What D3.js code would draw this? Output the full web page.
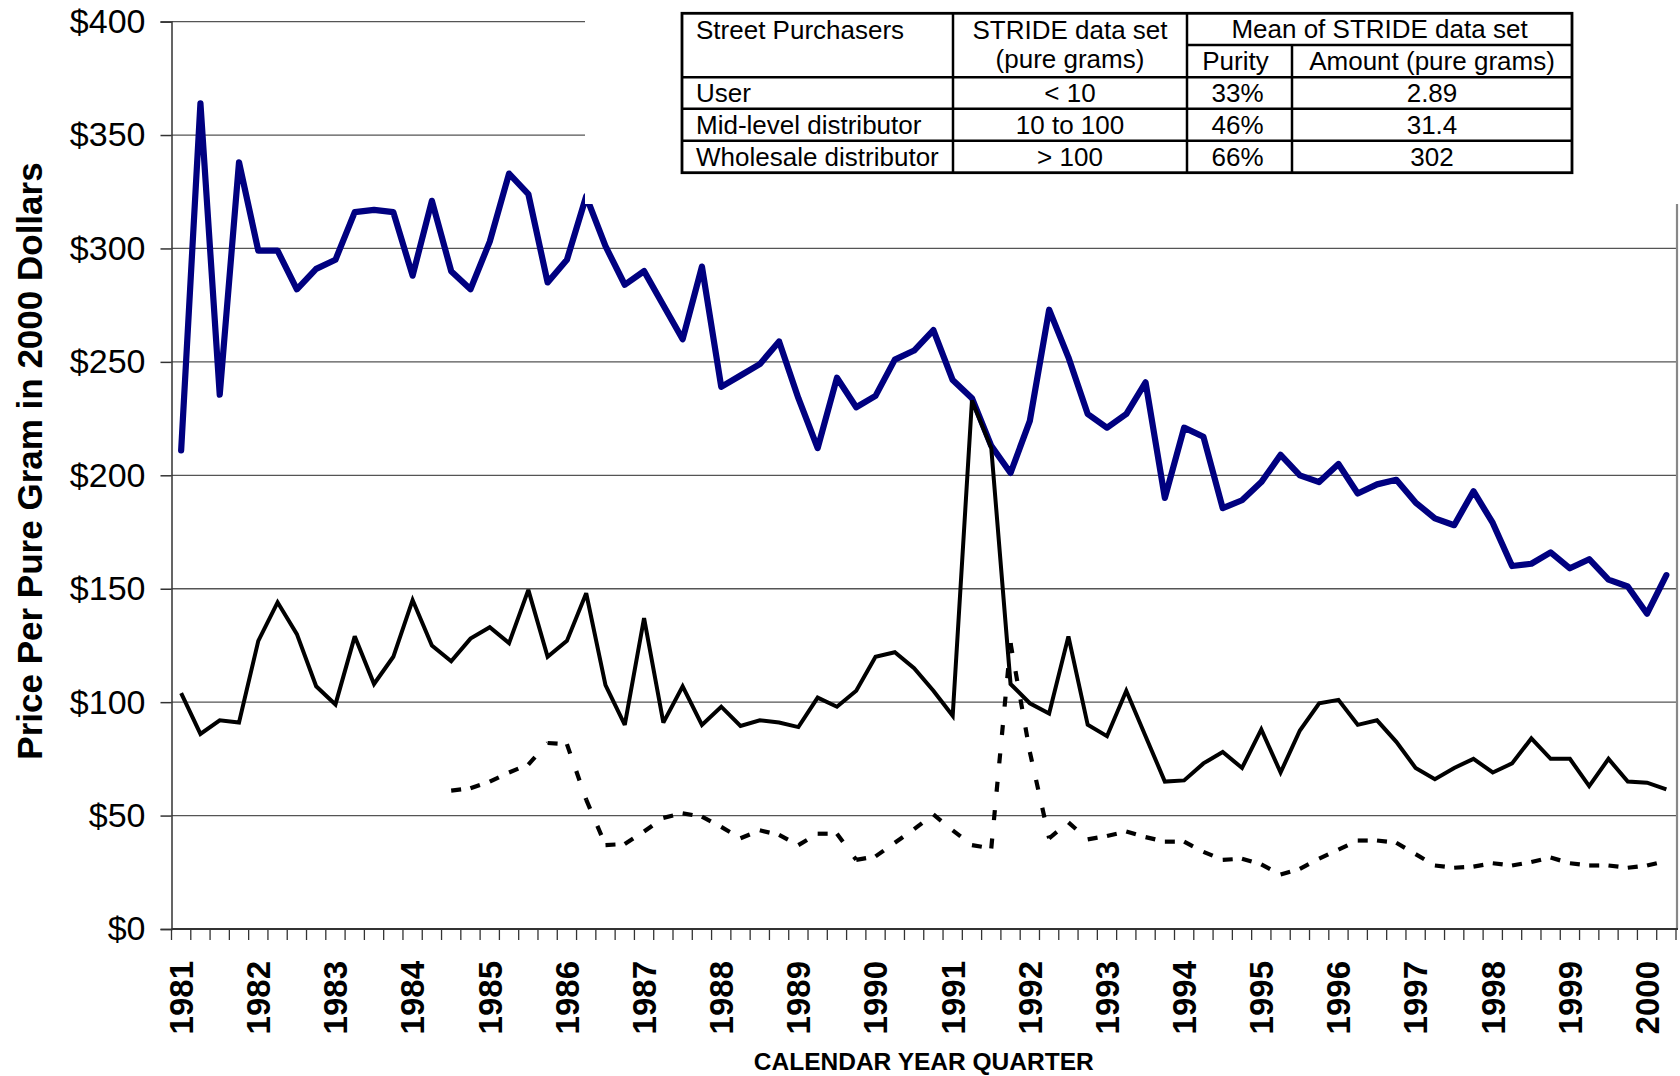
<!DOCTYPE html>
<html>
<head>
<meta charset="utf-8">
<script src="https://cdn.jsdelivr.net/npm/d3@7"></script>
<style>
  body { margin: 0; background: #fff; }
  svg { display: block; font-family: "Liberation Sans", Arial, sans-serif; }
</style>
</head>
<body>
<script>
// years on the category axis, one label per Q1
const years = [1981, 1982, 1983, 1984, 1985, 1986, 1987, 1988, 1989, 1990,
               1991, 1992, 1993, 1994, 1995, 1996, 1997, 1998, 1999, 2000];
const quarters = years.flatMap(y => ["Q1", "Q2", "Q3", "Q4"].map(q => y + q)).slice(0, 78);
const yTicks = [0, 50, 100, 150, 200, 250, 300, 350, 400];

// price per pure gram, 2000 dollars
const userPrice = [211, 364, 235.5, 338, 299, 299, 282, 291, 295, 316,
  317, 316, 288, 321, 290, 282, 303, 333, 324, 285,
  295, 323, 301, 284, 290, 275, 260, 292, 239, 244,
  249, 259, 234, 212, 243, 230, 235, 251, 255, 264,
  242, 234, 213, 201, 224, 273, 252, 227, 221, 227,
  241, 190, 221, 217, 185.5, 189, 197, 209, 200, 197,
  205, 192, 196, 198, 188, 181, 178, 193, 179, 160,
  161, 166, 159, 163, 154, 151, 139, 156];
const midPrice = [104, 86, 92, 91, 127, 144, 130, 107, 99, 129,
  108, 120, 145, 125, 118, 128, 133, 126, 149.5, 120,
  127, 148, 107.5, 90, 137, 91, 107, 90, 98, 89.5,
  92, 91, 89, 102, 98, 105, 120, 122, 115, 105,
  94, 233, 212, 108, 99.5, 95, 129, 90, 85, 105,
  85, 65, 65.5, 73, 78, 71, 88, 69, 87.5, 99.5,
  101, 90, 92, 82.5, 71, 66, 71, 75, 69, 73,
  84, 75, 75, 63, 75, 65, 64.5, 61.5];
const wholesalePrice = [null, null, null, null, null, null, null, null, null, null,
  null, null, null, null, 61, 62, 65, 69, 72.5, 82,
  81.5, 57, 37, 37.5, 43, 49, 51, 49.5, 45, 40,
  43.5, 41.5, 37, 42, 42, 30.5, 32, 38, 44, 50.5,
  43.5, 37, 35.5, 126, 78, 40, 47, 39.5, 41, 43,
  40.5, 38.5, 38.5, 34, 30.5, 31, 28.5, 24, 26.5, 31,
  35, 39, 39, 38, 33, 28, 27, 27.5, 29, 28,
  29.5, 31.5, 29, 28, 28, 27, 28, 30];

// table in the corner
const tableHead1 = ["Street Purchasers", "STRIDE data set", "Mean of STRIDE data set"];
const tableHead2 = ["(pure grams)", "Purity", "Amount (pure grams)"];
const tableRows = [
  ["User", "< 10", "33%", "2.89"],
  ["Mid-level distributor", "10 to 100", "46%", "31.4"],
  ["Wholesale distributor", "> 100", "66%", "302"]
];

const width = 1680, height = 1076;
const plotL = 171.5, plotR = 1676, plotT = 21.6, plotB = 929;

const svg = d3.select("body").append("svg")
  .attr("width", width).attr("height", height);
svg.append("rect").attr("width", width).attr("height", height).attr("fill", "#fff");

const x = d3.scaleBand().domain(quarters).range([plotL, plotR]);
const xc = q => x(q) + x.bandwidth() / 2;
const y = d3.scaleLinear().domain([0, 400]).range([plotB, plotT]);

// gridlines
svg.append("g").selectAll("line")
  .data(yTicks.filter(d => d > 0))
  .enter().append("line")
  .attr("x1", plotL).attr("x2", plotR)
  .attr("y1", d => y(d)).attr("y2", d => y(d))
  .attr("stroke", "#555").attr("stroke-width", 1.3);

// right border of the plot area
svg.append("line")
  .attr("x1", plotR + 1).attr("x2", plotR + 1)
  .attr("y1", plotT).attr("y2", plotB)
  .attr("stroke", "#888").attr("stroke-width", 2.2);

// y axis
const yAxis = svg.append("g")
  .attr("transform", "translate(" + plotL + ",0)")
  .call(d3.axisLeft(y).tickValues(yTicks).tickSize(11).tickPadding(15)
    .tickFormat(d => "$" + d));
yAxis.select(".domain").attr("stroke", "#333").attr("stroke-width", 1.5);
yAxis.selectAll(".tick line").attr("stroke", "#333").attr("stroke-width", 1.5);
yAxis.selectAll("text")
  .attr("font-size", 34).attr("fill", "#000")
  .attr("font-family", "'Liberation Sans', Arial, sans-serif");

// x axis: ticks between quarters, labels at Q1
const xg = svg.append("g");
xg.append("line")
  .attr("x1", plotL).attr("x2", plotR + 2)
  .attr("y1", plotB).attr("y2", plotB)
  .attr("stroke", "#333").attr("stroke-width", 1.8);
xg.selectAll(".qtick")
  .data(quarters.concat(["end"]))
  .enter().append("line")
  .attr("class", "qtick")
  .attr("x1", d => d === "end" ? plotR : x(d))
  .attr("x2", d => d === "end" ? plotR : x(d))
  .attr("y1", plotB).attr("y2", plotB + 11)
  .attr("stroke", "#333").attr("stroke-width", 1.3);

const xAxis = svg.append("g")
  .attr("transform", "translate(0," + plotB + ")")
  .call(d3.axisBottom(x).tickValues(quarters.filter(q => q.endsWith("Q1")))
    .tickSize(0).tickFormat(d => d.slice(0, 4)));
xAxis.select(".domain").remove();
xAxis.selectAll("text")
  .attr("font-size", 33).attr("font-weight", "bold").attr("fill", "#000")
  .attr("font-family", "'Liberation Sans', Arial, sans-serif")
  .attr("text-anchor", "end")
  .attr("transform", "translate(0,32) rotate(-90)")
  .attr("x", 0).attr("y", 0).attr("dy", "0.36em");

// series
const line = d3.line()
  .defined(d => d.v != null)
  .x(d => xc(d.q)).y(d => y(d.v));
const pts = arr => quarters.map((q, i) => ({ q: q, v: arr[i] }));

svg.append("path")
  .attr("d", line(pts(userPrice)))
  .attr("fill", "none").attr("stroke", "#000080")
  .attr("stroke-width", 6.2).attr("stroke-linejoin", "round").attr("stroke-linecap", "round");

svg.append("path")
  .attr("d", line(pts(midPrice)))
  .attr("fill", "none").attr("stroke", "#000")
  .attr("stroke-width", 4).attr("stroke-linejoin", "miter").attr("stroke-miterlimit", 3);

// dash pattern restarts at each point, like the original
const wp = pts(wholesalePrice);
const segs = d3.pairs(wp).filter(p => p[0].v != null && p[1].v != null);
svg.append("g").selectAll("path")
  .data(segs)
  .enter().append("path")
  .attr("d", d => line(d))
  .attr("fill", "none").attr("stroke", "#000")
  .attr("stroke-width", 4.2).attr("stroke-dasharray", "10,18.5");

// white block behind the table hides the top right of the plot
svg.append("rect")
  .attr("x", 585).attr("y", 0).attr("width", width - 585).attr("height", 204)
  .attr("fill", "#fff");

// table
const cols = [682, 953, 1187, 1292, 1572];
const rowsY = [13.3, 77.3, 108.7, 140.7, 172.7];
const tg = svg.append("g").attr("font-size", 26).attr("fill", "#000");
const tl = (x1, y1, x2, y2) => tg.append("line")
  .attr("x1", x1).attr("y1", y1).attr("x2", x2).attr("y2", y2)
  .attr("stroke", "#000").attr("stroke-width", 2.5);
tg.append("rect")
  .attr("x", cols[0]).attr("y", rowsY[0])
  .attr("width", cols[4] - cols[0]).attr("height", rowsY[4] - rowsY[0])
  .attr("fill", "none").attr("stroke", "#000").attr("stroke-width", 2.8);
rowsY.slice(1, 4).forEach(r => tl(cols[0], r, cols[4], r));
tl(cols[2], 45, cols[4], 45);
tl(cols[1], rowsY[0], cols[1], rowsY[4]);
tl(cols[2], rowsY[0], cols[2], rowsY[4]);
tl(cols[3], 45, cols[3], rowsY[4]);

const tt = (txt, tx, ty, anchor) => tg.append("text")
  .attr("x", tx).attr("y", ty).attr("text-anchor", anchor).text(txt);
tt(tableHead1[0], 696, 38.5, "start");
tt(tableHead1[1], (cols[1] + cols[2]) / 2, 38.5, "middle");
tt(tableHead1[2], (cols[2] + cols[4]) / 2, 38, "middle");
tt(tableHead2[0], (cols[1] + cols[2]) / 2, 68, "middle");
tt(tableHead2[1], (cols[2] + cols[3]) / 2 - 4, 69.5, "middle");
tt(tableHead2[2], (cols[3] + cols[4]) / 2, 69.5, "middle");
const baseY = [102, 133.5, 166];
tableRows.forEach((r, i) => {
  tt(r[0], 696, baseY[i], "start");
  tt(r[1], (cols[1] + cols[2]) / 2, baseY[i], "middle");
  tt(r[2], (cols[2] + cols[3]) / 2 - 2, baseY[i], "middle");
  tt(r[3], (cols[3] + cols[4]) / 2, baseY[i], "middle");
});

// axis titles
svg.append("text")
  .attr("transform", "translate(42,461) rotate(-90)")
  .attr("text-anchor", "middle")
  .attr("font-size", 35).attr("font-weight", "bold")
  .text("Price Per Pure Gram in 2000 Dollars");

svg.append("text")
  .attr("x", (plotL + plotR) / 2).attr("y", 1070)
  .attr("text-anchor", "middle")
  .attr("font-size", 24.5).attr("font-weight", "bold")
  .text("CALENDAR YEAR QUARTER");
</script>
</body>
</html>
